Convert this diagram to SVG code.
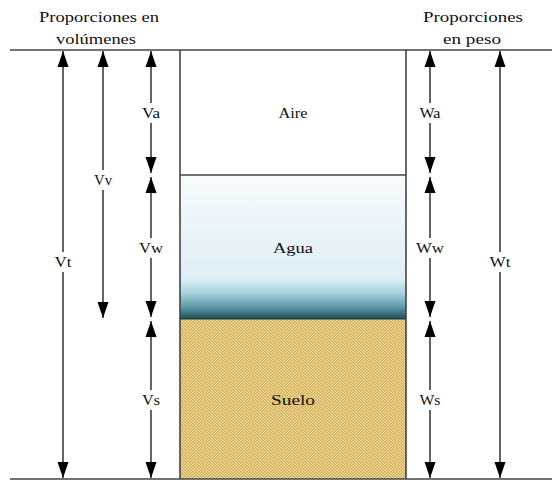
<svg xmlns="http://www.w3.org/2000/svg" width="552" height="482" viewBox="0 0 552 482">
<style>
text{font-family:"Liberation Serif","DejaVu Serif",serif;font-size:15px;fill:#111;text-anchor:middle;dominant-baseline:central}
.ln{stroke:#444;stroke-width:1.6;fill:none}
.arr{stroke:#111;stroke-width:1.3;fill:none;marker-start:url(#ah);marker-end:url(#ah)}
.lb{fill:#fff}
</style>
<defs>
<marker id="ah" viewBox="0 0 16 12" refX="16" refY="6" markerWidth="16" markerHeight="12" markerUnits="userSpaceOnUse" orient="auto-start-reverse">
<path d="M0,0.5 L16,6 L0,11.5 z" fill="#000"/>
</marker>
<linearGradient id="water" x1="0" y1="0" x2="0" y2="1">
<stop offset="0" stop-color="#f8fbfc"/>
<stop offset="0.72" stop-color="#deeef4"/>
<stop offset="0.82" stop-color="#a6d3de"/>
<stop offset="0.92" stop-color="#5b97a4"/>
<stop offset="1" stop-color="#1e4d58"/>
</linearGradient>
<pattern id="sand" width="3" height="3" patternUnits="userSpaceOnUse">
<rect width="3" height="3" fill="#f0dc9c"/>
<rect width="1.5" height="1.5" fill="#d0aa52"/>
<rect x="1.5" y="1.5" width="1.5" height="1.5" fill="#d0aa52"/>
</pattern>
</defs>
<rect width="552" height="482" fill="#fff"/>
<g id="header-left">
<text x="99" y="17" textLength="120" lengthAdjust="spacingAndGlyphs">Proporciones en</text>
<text x="96" y="39" textLength="80" lengthAdjust="spacingAndGlyphs">volúmenes</text>
</g>
<g id="header-right">
<text x="473" y="17" textLength="100" lengthAdjust="spacingAndGlyphs">Proporciones</text>
<text x="472" y="39" textLength="58" lengthAdjust="spacingAndGlyphs">en peso</text>
</g>
<g id="aire">
<rect x="180" y="50" width="226" height="125" fill="#fff"/>
<text x="293" y="113" textLength="29" lengthAdjust="spacingAndGlyphs">Aire</text>
</g>
<g id="agua">
<rect x="180" y="175" width="226" height="144" fill="url(#water)"/>
<text x="293" y="248" textLength="40" lengthAdjust="spacingAndGlyphs">Agua</text>
</g>
<g id="suelo">
<rect x="180" y="319" width="226" height="160" fill="url(#sand)"/>
<text x="293" y="400" textLength="44" lengthAdjust="spacingAndGlyphs">Suelo</text>
</g>
<g id="frame">
<line class="ln" x1="10" y1="50" x2="552" y2="50"/>
<line class="ln" x1="10" y1="479" x2="552" y2="479"/>
<line class="ln" x1="180" y1="50" x2="180" y2="479"/>
<line class="ln" x1="406" y1="50" x2="406" y2="479"/>
<line class="ln" x1="180" y1="175" x2="406" y2="175"/>
<line x1="180" y1="319" x2="406" y2="319" stroke="#1a3a40" stroke-width="1.2"/>
</g>
<g id="connectors">
<line class="arr" x1="63" y1="51" x2="63" y2="478"/>
<line class="arr" x1="103" y1="51" x2="103" y2="318"/>
<line class="arr" x1="151" y1="51" x2="151" y2="173"/>
<line class="arr" x1="151" y1="177" x2="151" y2="317"/>
<line class="arr" x1="151" y1="321" x2="151" y2="478"/>
<line class="arr" x1="430" y1="51" x2="430" y2="173"/>
<line class="arr" x1="430" y1="177" x2="430" y2="317"/>
<line class="arr" x1="430" y1="321" x2="430" y2="478"/>
<line class="arr" x1="500" y1="51" x2="500" y2="478"/>
</g>
<g id="labels">
<rect class="lb" x="52" y="252" width="22" height="20"/><text x="63" y="262" textLength="17" lengthAdjust="spacingAndGlyphs">Vt</text>
<rect class="lb" x="92" y="170" width="22" height="20"/><text x="103" y="180" textLength="18" lengthAdjust="spacingAndGlyphs">Vv</text>
<rect class="lb" x="140" y="103" width="22" height="20"/><text x="151" y="113" textLength="18" lengthAdjust="spacingAndGlyphs">Va</text>
<rect class="lb" x="137" y="238" width="28" height="20"/><text x="151" y="248" textLength="24" lengthAdjust="spacingAndGlyphs">Vw</text>
<rect class="lb" x="140" y="390" width="22" height="20"/><text x="151" y="400" textLength="18" lengthAdjust="spacingAndGlyphs">Vs</text>
<rect class="lb" x="418" y="103" width="24" height="20"/><text x="430" y="113" textLength="21" lengthAdjust="spacingAndGlyphs">Wa</text>
<rect class="lb" x="414" y="238" width="32" height="20"/><text x="430" y="248" textLength="28" lengthAdjust="spacingAndGlyphs">Ww</text>
<rect class="lb" x="418" y="390" width="24" height="20"/><text x="430" y="400" textLength="21" lengthAdjust="spacingAndGlyphs">Ws</text>
<rect class="lb" x="488" y="252" width="24" height="20"/><text x="500" y="262" textLength="21" lengthAdjust="spacingAndGlyphs">Wt</text>
</g>
</svg>
